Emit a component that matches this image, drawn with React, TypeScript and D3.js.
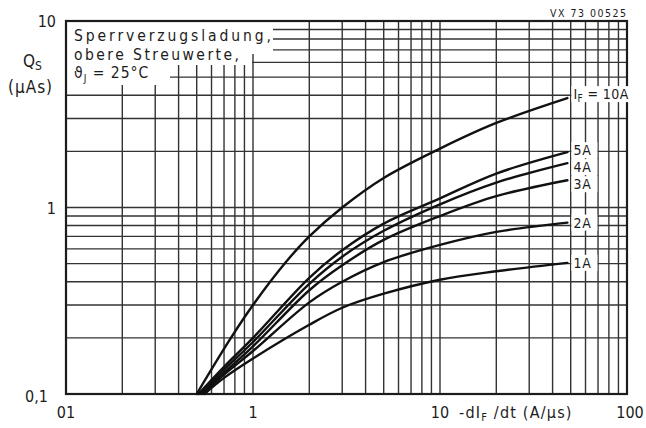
import * as d3 from "d3";
import React from "react";

// Sperrverzugsladung Q_S über -dI_F/dt, Parameter I_F (log-log)
const curveLabels = ["10A", "5A", "4A", "3A", "2A", "1A"];

const curve10A = [[0.5, 0.1], [0.75, 0.195], [1.0, 0.3], [1.5, 0.51], [2, 0.7], [3, 1.0], [5, 1.44], [10, 2.07], [20, 2.84], [48, 3.86]];
const curve5A = [[0.51, 0.1], [0.7, 0.14], [1.0, 0.2], [2, 0.42], [3, 0.59], [5, 0.82], [10, 1.12], [20, 1.52], [48, 1.98]];
const curve4A = [[0.52, 0.1], [0.7, 0.135], [1.0, 0.19], [2, 0.39], [3, 0.545], [5, 0.75], [10, 1.04], [20, 1.36], [48, 1.73]];
const curve3A = [[0.53, 0.1], [0.7, 0.13], [1.0, 0.18], [2, 0.36], [3, 0.49], [5, 0.67], [10, 0.9], [20, 1.15], [48, 1.4]];
const curve2A = [[0.54, 0.1], [0.7, 0.127], [1.0, 0.17], [2, 0.31], [3, 0.4], [5, 0.51], [10, 0.63], [20, 0.74], [48, 0.83]];
const curve1A = [[0.55, 0.1], [0.7, 0.122], [1.0, 0.155], [2, 0.235], [3, 0.29], [5, 0.345], [10, 0.41], [20, 0.455], [48, 0.505]];

// Verschiebung der Beschriftung gegenüber dem Kurvenende (px)
const labelShift = [-4, -2, 4, 4, 0, 0];

const xTickLabels = ["01", "1", "10", "100"];
const xTickValues = [0.1, 1, 10, 100];
const yTickLabels = ["0,1", "1", "10"];
const yTickValues = [0.1, 1, 10];
const xDecades = [0.1, 1, 10];
const yDecades = [0.1, 1];
const gridSteps = [1, 2, 3, 4, 5, 6, 7, 8, 9];

const FONT = "'DejaVu Sans Condensed', 'Liberation Sans Narrow', 'DejaVu Sans', sans-serif";
const INK = "#1c1c1c";

export default function App() {
  const width = 646, height = 428;
  const x = d3.scaleLog().domain([0.1, 100]).range([66, 627]);
  const y = d3.scaleLog().domain([0.1, 10]).range([394, 21]);

  const xGrid = xDecades.flatMap((d) => gridSteps.map((k) => d * k)).concat([100]);
  const yGrid = yDecades.flatMap((d) => gridSteps.map((k) => d * k)).concat([10]);

  const line = d3.line<number[]>()
    .x((d) => x(d[0]))
    .y((d) => y(d[1]))
    .curve(d3.curveCatmullRom.alpha(0.5));

  const series = [curve10A, curve5A, curve4A, curve3A, curve2A, curve1A];

  return (
    <svg width={width} height={height} style={{ position: "absolute", left: 0, top: 0, background: "#fff" }}
      fontFamily={FONT}>
      {/* Gitter */}
      <g stroke="#333" strokeWidth={1.4}>
        {xGrid.map((v, i) => (
          <line key={"gx" + i} x1={x(v)} x2={x(v)} y1={y(0.1)} y2={y(10)} />
        ))}
        {yGrid.map((v, i) => (
          <line key={"gy" + i} x1={x(0.1)} x2={x(100)} y1={y(v)} y2={y(v)} />
        ))}
      </g>

      {/* weiße Fläche hinter dem Titeltext */}
      <g fill="#fff">
        <rect x={x(0.1)} y={y(10)} width={207} height={33} />
        <rect x={x(0.1)} y={y(10) + 33} width={186} height={11} />
        <rect x={x(0.1)} y={y(10) + 44} width={104} height={20} />
      </g>

      {/* Rahmen */}
      <rect x={x(0.1)} y={y(10)} width={x(100) - x(0.1)} height={y(0.1) - y(10)}
        fill="none" stroke={INK} strokeWidth={2.2} />

      {/* Kurven */}
      <g fill="none" stroke="#111" strokeWidth={2.4} strokeLinecap="round">
        {series.map((s, i) => <path key={"c" + i} d={line(s) || ""} />)}
      </g>

      {/* Kurvenbeschriftung */}
      <g fill={INK} fontSize={14}>
        {series.map((s, i) => {
          const last = s[s.length - 1];
          const lx = x(last[0]) + 6;
          const ly = y(last[1]) + labelShift[i] + 5;
          const w = i === 0 ? 58 : 26;
          return (
            <g key={"l" + i}>
              <rect x={lx - 2} y={ly - 13} width={w} height={16} fill="#fff" />
              {i === 0 ? (
                <text x={lx} y={ly} letterSpacing={0.4}>
                  I<tspan fontSize={10} dy={3}>F</tspan><tspan dy={-3}> = {curveLabels[i]}</tspan>
                </text>
              ) : (
                <text x={lx} y={ly} letterSpacing={0.8}>{curveLabels[i]}</text>
              )}
            </g>
          );
        })}
      </g>

      {/* Titeltext im Diagramm */}
      <g fill={INK} fontSize={15.5}>
        <text x={74} y={41} textLength={197} lengthAdjust="spacing">Sperrverzugsladung,</text>
        <text x={74} y={59.5} textLength={165} lengthAdjust="spacing">obere  Streuwerte,</text>
        <text x={74} y={78} letterSpacing={1}>
          ϑ<tspan fontSize={10} dy={4}>J</tspan><tspan dy={-4}> = 25°C</tspan>
        </text>
      </g>

      {/* Achsenbeschriftung */}
      <g fill={INK} fontSize={16}>
        {yTickValues.map((v, i) => (
          <text key={"yt" + i} x={v === 0.1 ? 48 : 56} y={y(v) + (v === 0.1 ? 8 : 6)} textAnchor="end">
            {yTickLabels[i]}
          </text>
        ))}
        {xTickValues.map((v, i) => (
          <text key={"xt" + i} x={x(v) + (v === 100 ? 3 : 0)} y={418} textAnchor="middle">{xTickLabels[i]}</text>
        ))}
        <text x={459} y={418} letterSpacing={1.2}>
          -dI<tspan fontSize={11} dy={3}>F</tspan><tspan dy={-3}> /dt (A/µs)</tspan>
        </text>
        <text x={23} y={67} fontSize={17}>
          Q<tspan fontSize={12} dy={3}>S</tspan>
        </text>
        <text x={8} y={93} fontSize={17} letterSpacing={1}>(µAs)</text>
      </g>

      <text x={626} y={17} textAnchor="end" fontSize={10.5} fill={INK} textLength={76} lengthAdjust="spacing">VX 73 00525</text>
    </svg>
  );
}
